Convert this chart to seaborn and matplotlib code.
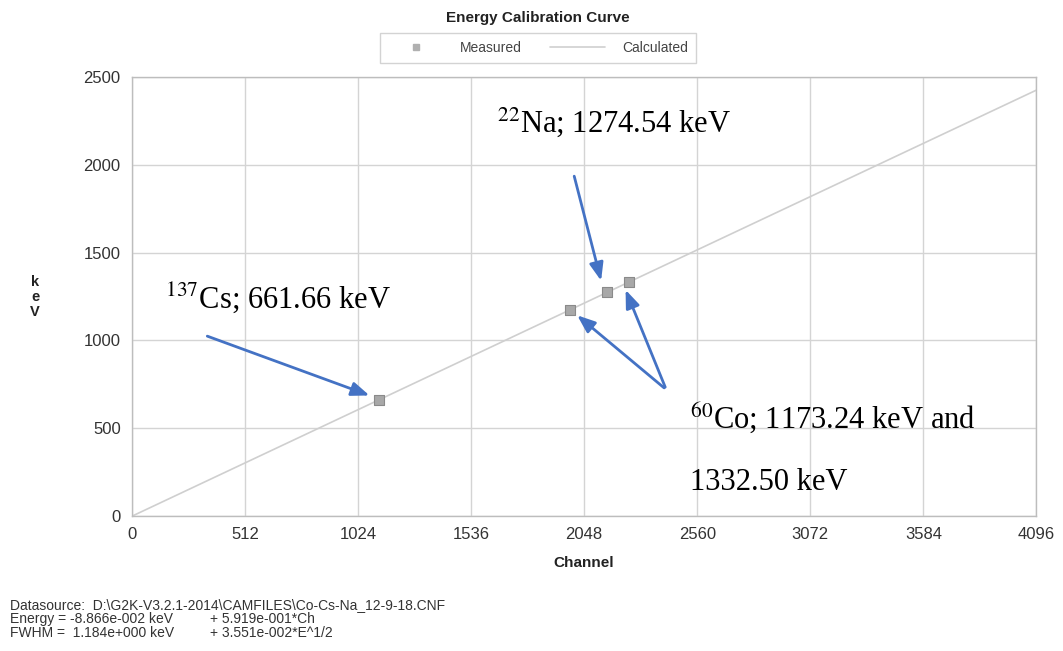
import matplotlib
matplotlib.use("Agg")
import matplotlib.pyplot as plt
import seaborn as sns
import pandas as pd
from matplotlib.lines import Line2D

# ---- data ----
measured_channel = [1118, 1982, 2153, 2251]
measured_kev = [661.66, 1173.24, 1274.54, 1332.50]
calc_channel = [0, 4096]
calc_kev = [-0.09, 2424.4]
x_ticks = [0, 512, 1024, 1536, 2048, 2560, 3072, 3584, 4096]
y_ticks = [0, 500, 1000, 1500, 2000, 2500]

sns.set_theme(style="white")
plt.rcParams['font.family'] = ['Liberation Sans', 'DejaVu Sans']
plt.rcParams['mathtext.fontset'] = 'stix'

fig = plt.figure(figsize=(10.63, 6.51), dpi=100)
ax = fig.add_axes([0.124, 0.207, 0.851, 0.675])

df_calc = pd.DataFrame({"Channel": calc_channel, "keV": calc_kev})
df_meas = pd.DataFrame({"Channel": measured_channel, "keV": measured_kev})

sns.lineplot(data=df_calc, x="Channel", y="keV", ax=ax, color="#cfcfcf", lw=1.2)
sns.scatterplot(data=df_meas, x="Channel", y="keV", ax=ax, marker="s", s=55,
                color="#a8a8a8", edgecolor="#8a8a8a", linewidth=0.8, zorder=3)

ax.set_xlim(0, 4096)
ax.set_ylim(0, 2500)
ax.set_xticks(x_ticks)
ax.set_yticks(y_ticks)
ax.set_xticklabels([str(v) for v in x_ticks], fontsize=12, color="#333333")
ax.set_yticklabels([str(v) for v in y_ticks], fontsize=12, color="#333333")
ax.tick_params(axis='both', length=0, pad=8)
ax.grid(True, color="#d4d4d4", lw=1.0)
for s in ax.spines.values():
    s.set_color("#bdbdbd")
    s.set_linewidth(1.0)

ax.set_xlabel("Channel", fontsize=11, fontweight="bold", color="#222222", labelpad=10)
ax.set_ylabel("")
fig.text(35/1063, 1-297/651, "k\ne\nV", ha="center", va="center", fontsize=10.5,
         fontweight="bold", color="#222222", linespacing=1.1)

fig.text(538/1063, 1-18/651, "Energy Calibration Curve", ha="center", va="center",
         fontsize=11, fontweight="bold", color="#222222")

handles = [Line2D([], [], marker="s", ls="none", color="#b0b0b0", markersize=5),
           Line2D([], [], color="#cfcfcf", lw=1.2)]
leg = fig.legend(handles, ["Measured", "Calculated"], loc="center",
                 bbox_to_anchor=(538/1063, 1-48/651), ncol=2, frameon=True,
                 fontsize=10, fancybox=False, edgecolor="#c8c8c8",
                 handlelength=4, columnspacing=2.0, borderpad=0.6, handletextpad=1.2)
for t in leg.get_texts():
    t.set_color("#444444")

# ---- annotations ----
arrow_kw = dict(arrowstyle="-|>,head_length=0.9,head_width=0.35", color="#4472c4", lw=2)
serif = dict(fontsize=22, color="black", family=["Liberation Serif", "DejaVu Serif"])

ax.annotate("", xy=(measured_channel[0] - 30, measured_kev[0] + 20),
            xytext=(330, 1030), textcoords="data", arrowprops=arrow_kw)
fig.text(165/1063, 1-298/651, r"$^{137}$Cs; 661.66 keV", va="center", ha="left", **serif)

ax.annotate("", xy=(measured_channel[2] - 25, measured_kev[2] + 50),
            xytext=(2000, 1950), arrowprops=arrow_kw)
fig.text(497/1063, 1-122/651, r"$^{22}$Na; 1274.54 keV", va="center", ha="left", **serif)

ax.annotate("", xy=(measured_channel[1] + 25, measured_kev[1] - 20),
            xytext=(2420, 720), arrowprops=arrow_kw)
ax.annotate("", xy=(measured_channel[3] - 20, measured_kev[3] - 30),
            xytext=(2420, 720), arrowprops=arrow_kw)
fig.text(690/1063, 1-418/651, r"$^{60}$Co; 1173.24 keV and", va="center", ha="left", **serif)
fig.text(690/1063, 1-483/651, "1332.50 keV", va="center", ha="left", **serif)

# ---- footer ----
foot = dict(fontsize=10, color="#333333", va="center", ha="left")
fig.text(10/1063, 1-605/651, r"Datasource:  D:\G2K-V3.2.1-2014\CAMFILES\Co-Cs-Na_12-9-18.CNF", **foot)
fig.text(10/1063, 1-619/651, "Energy = -8.866e-002 keV", **foot)
fig.text(210/1063, 1-619/651, "+ 5.919e-001*Ch", **foot)
fig.text(10/1063, 1-633/651, "FWHM =  1.184e+000 keV", **foot)
fig.text(210/1063, 1-633/651, "+ 3.551e-002*E^1/2", **foot)

fig.savefig("out.png", dpi=100, facecolor="white")
